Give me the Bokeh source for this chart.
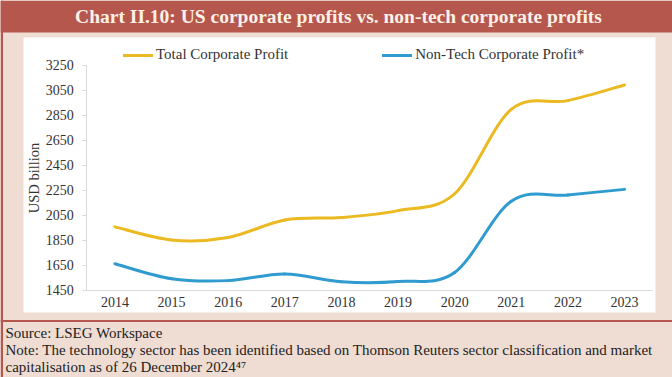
from bokeh.plotting import figure
from bokeh.models import (Range1d, FixedTicker, BoxAnnotation, Label, Legend,
                          LegendItem, LinearAxis)
from bokeh.embed import file_html
from bokeh.resources import INLINE

# ---- data ----
years = [2014, 2015, 2016, 2017, 2018, 2019, 2020, 2021, 2022, 2023]
total_profit = [1955, 1850, 1870, 2010, 2030, 2085, 2220, 2895, 2965, 3090]
nontech_profit = [1660, 1540, 1525, 1578, 1516, 1518, 1590, 2160, 2210, 2255]
y_ticks = [1450, 1650, 1850, 2050, 2250, 2450, 2650, 2850, 3050, 3250]
series_names = ["Total Corporate Profit", "Non-Tech Corporate Profit*"]
title_text = "Chart II.10: US corporate profits vs. non-tech corporate profits"
source_lines = [
    "Source: LSEG Workspace",
    "Note: The technology sector has been identified based on Thomson Reuters sector classification and market",
    "capitalisation as of 26 December 2024\u2074\u2077",
]

# ---- styles / layout (pixels) ----
YELLOW = "#ebb921"
BLUE = "#2f9bcf"
PINK = "#efdcd2"
RED = "#b5574c"
TEXT = "#333333"
AXIS = "#d9d9d9"
FONT = "Liberation Serif"

W, H = 672, 377
PLOT_L, PLOT_R, PLOT_T, PLOT_B = 86.2, 652.3, 64.5, 289.5   # data area in canvas px

x_lo, x_hi = years[0] - 0.5, years[-1] + 0.5
y_lo, y_hi = y_ticks[0], y_ticks[-1]
ppx = (PLOT_R - PLOT_L) / (x_hi - x_lo)
ppy = (PLOT_B - PLOT_T) / (y_hi - y_lo)


def smooth_segments(xs, ys):
    """Cubic Bezier segments (Catmull-Rom tangents) through the data points."""
    n = len(xs)
    seg = dict(x0=[], y0=[], x1=[], y1=[], cx0=[], cy0=[], cx1=[], cy1=[])
    for i in range(n - 1):
        ip = max(i - 1, 0)
        inn = min(i + 2, n - 1)
        seg["x0"].append(xs[i]); seg["y0"].append(ys[i])
        seg["x1"].append(xs[i + 1]); seg["y1"].append(ys[i + 1])
        seg["cx0"].append(xs[i] + (xs[i + 1] - xs[ip]) / 6)
        seg["cy0"].append(ys[i] + (ys[i + 1] - ys[ip]) / 6)
        seg["cx1"].append(xs[i + 1] - (xs[inn] - xs[i]) / 6)
        seg["cy1"].append(ys[i + 1] - (ys[inn] - ys[i]) / 6)
    return seg


p = figure(width=W, height=H, output_backend="svg", toolbar_location=None,
           x_range=Range1d(x_lo - PLOT_L / ppx, x_hi + (W - PLOT_R) / ppx),
           y_range=Range1d(y_lo - (H - PLOT_B) / ppy, y_hi + PLOT_T / ppy),
           x_axis_location=None, y_axis_location=None,
           min_border=0, min_border_left=0, min_border_right=0,
           min_border_top=0, min_border_bottom=0)
p.title = None
p.background_fill_color = PINK
p.border_fill_color = PINK
p.outline_line_color = None
p.xgrid.visible = False
p.ygrid.visible = False


# panel decorations (canvas units, drawn beneath everything)
def box(l, t, r, b, color):
    bx = BoxAnnotation(left=l, right=r, top=t, bottom=b,
                       left_units="canvas", right_units="canvas",
                       top_units="canvas", bottom_units="canvas",
                       fill_color=color, fill_alpha=1.0, line_color=None,
                       level="underlay")
    p.add_layout(bx)


box(23, 37, 655, 312, "white")
box(0, 0, W, 32, RED)
box(0, 319.5, W, 321.5, RED)
box(0, 0, 2.5, H, RED)

# axes fixed inside the canvas, limited to the data area
xa = LinearAxis(fixed_location=y_lo, bounds=(x_lo, x_hi),
                ticker=FixedTicker(ticks=years))
xa.major_tick_out = 0
xa.major_tick_in = 0
xa.minor_tick_out = 0
xa.minor_tick_in = 0
xa.axis_line_color = AXIS
xa.major_label_standoff = 7
xa.major_label_text_font = FONT
xa.major_label_text_font_size = "14px"
xa.major_label_text_color = TEXT
p.add_layout(xa, "below")

ya = LinearAxis(fixed_location=x_lo, bounds=(y_lo, y_hi),
                ticker=FixedTicker(ticks=y_ticks))
ya.major_tick_out = 4
ya.major_tick_in = 0
ya.minor_tick_out = 0
ya.minor_tick_in = 0
ya.major_tick_line_color = AXIS
ya.axis_line_color = AXIS
ya.major_label_standoff = 9
ya.major_label_text_font = FONT
ya.major_label_text_font_size = "14px"
ya.major_label_text_color = TEXT
ya.axis_label = "USD billion"
ya.axis_label_text_font = FONT
ya.axis_label_text_font_style = "normal"
ya.axis_label_text_font_size = "14.5px"
ya.axis_label_text_color = TEXT
ya.axis_label_standoff = 1
p.add_layout(ya, "left")

# lines
s1 = smooth_segments(years, total_profit)
s2 = smooth_segments(years, nontech_profit)
r1 = p.bezier(line_color=YELLOW, line_width=3, line_cap="round", **s1)
r2 = p.bezier(line_color=BLUE, line_width=3, line_cap="round", **s2)

legend = Legend(items=[LegendItem(label=series_names[0], renderers=[r1]),
                       LegendItem(label=series_names[1], renderers=[r2])],
                orientation="horizontal", location=(123, H - 63),
                spacing=94, glyph_width=30, glyph_height=16, label_height=16,
                label_standoff=3, padding=0, margin=0,
                border_line_color=None, background_fill_alpha=0,
                label_text_font=FONT, label_text_font_size="15px",
                label_text_color=TEXT)
p.add_layout(legend)

# texts
p.add_layout(Label(x=W / 2 + 2, y=16, x_units="canvas", y_units="canvas",
                   text=title_text, text_align="center", text_baseline="middle",
                   text_font=FONT, text_font_style="bold",
                   text_font_size="19.5px", text_color="#fbf1e8"))
for txt, yb in zip(source_lines, [332, 349, 366]):
    p.add_layout(Label(x=5, y=yb, x_units="canvas", y_units="canvas",
                       text=txt, text_align="left", text_baseline="alphabetic",
                       text_font=FONT, text_font_size="15px", text_color="#222222"))

open("out.html", "w").write(file_html(p, INLINE))
